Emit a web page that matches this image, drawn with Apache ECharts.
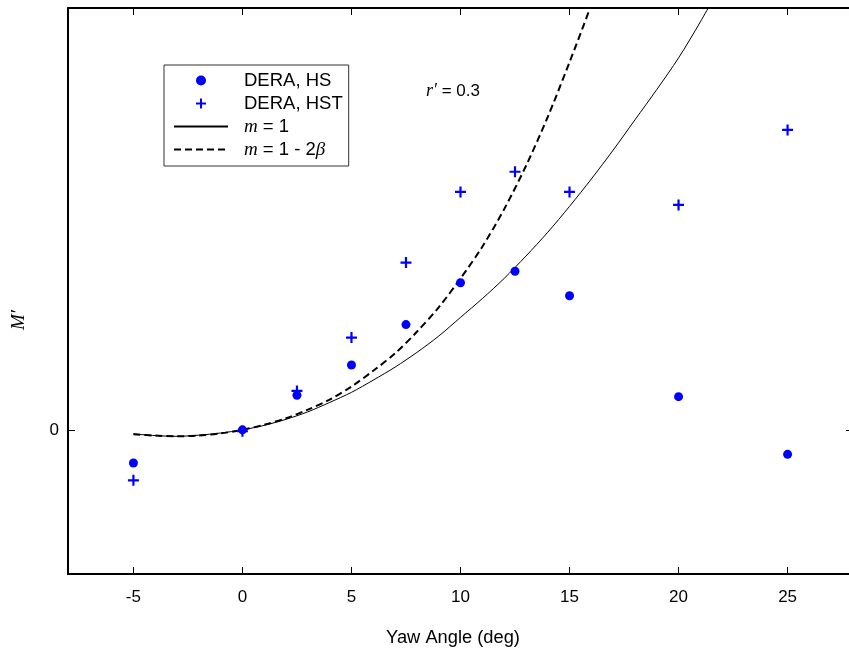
<!DOCTYPE html>
<html>
<head>
<meta charset="utf-8">
<script src="https://cdn.jsdelivr.net/npm/echarts@6/dist/echarts.min.js"></script>
<style>
html,body{margin:0;padding:0;background:#fff;}
#chart{width:849px;height:654px;}
</style>
</head>
<body>
<div id="chart"></div>
<script>
// Measured points (yaw angle, deg)
const yawAngles = [-5, 0, 2.5, 5, 7.5, 10, 12.5, 15, 20, 25];
const deraHS  = [-0.23, 0, 0.24, 0.45, 0.73, 1.02, 1.10, 0.93, 0.23, -0.17];
const deraHST = [-0.35, -0.01, 0.27, 0.64, 1.16, 1.65, 1.79, 1.65, 1.56, 2.08];

// Theory curves
const curveX_m1 = [-5,-4,-3,-2,-1,0,1,2,3,4,5,6,7,8,9,10,11,12,13,14,15,16,17,18,19,20,21,22];
const curveY_m1 = [-0.028,-0.04,-0.045,-0.037,-0.022,0,0.031,0.073,0.125,0.19,0.26,0.345,0.435,0.537,0.65,0.78,0.91,1.05,1.205,1.37,1.55,1.74,1.94,2.15,2.36,2.58,2.83,3.1];
const curveX_m2 = [-5,-4,-3,-2,-1,0,1,2,3,4,5,6,7,8,9,10,11,12,13,14,15,16,17];
const curveY_m2 = [-0.03,-0.04,-0.045,-0.04,-0.025,0,0.035,0.08,0.14,0.21,0.3,0.41,0.53,0.68,0.85,1.05,1.27,1.53,1.83,2.17,2.55,2.95,3.38];

// Axis ticks
const xTicks = [-5, 0, 5, 10, 15, 20, 25];
const yTicks = [0];

const FONT = 'Liberation Sans';
const SERIF = 'Liberation Serif';
const BLUE = '#0000ff';
const PLUS = 'path://M4,0H6V4H10V6H6V10H4V6H0V4H4Z';

const chart = echarts.init(document.getElementById('chart'), null, {renderer: 'canvas'});

const axisCommon = {
  type: 'value',
  axisLine: {show: true, onZero: false, lineStyle: {color: '#000', width: 2}},
  splitLine: {show: false},
  axisTick: {show: true, inside: true, length: 7, lineStyle: {color: '#000', width: 1}},
};

const hiddenDot = {color: 'rgba(0,0,0,0)', borderWidth: 0, opacity: 0};

const option = {
  animation: false,
  backgroundColor: '#fff',
  grid: {left: 68, top: 8, width: 785, height: 566, containLabel: false, outerBoundsMode: 'none'},
  xAxis: [
    Object.assign({}, axisCommon, {
      position: 'bottom', min: -8, max: 28,
      axisTick: Object.assign({}, axisCommon.axisTick, {customValues: xTicks}),
      axisLabel: {show: true, customValues: xTicks, margin: 15, color: '#000', fontSize: 17, fontFamily: FONT}
    }),
    Object.assign({}, axisCommon, {
      position: 'top', min: -8, max: 28,
      axisTick: Object.assign({}, axisCommon.axisTick, {customValues: xTicks}),
      axisLabel: {show: false}
    })
  ],
  yAxis: [
    Object.assign({}, axisCommon, {
      position: 'left', min: -1, max: 2.926,
      axisTick: Object.assign({}, axisCommon.axisTick, {customValues: yTicks}),
      axisLabel: {show: true, customValues: yTicks, margin: 9, color: '#000', fontSize: 17, fontFamily: FONT}
    }),
    Object.assign({}, axisCommon, {
      position: 'right', min: -1, max: 2.926,
      axisTick: Object.assign({}, axisCommon.axisTick, {customValues: yTicks}),
      axisLabel: {show: false}
    })
  ],
  legend: {
    orient: 'vertical',
    left: 164, top: 65,
    padding: [6, 6, 7, 9],
    borderColor: '#333', borderWidth: 1,
    backgroundColor: '#fff',
    itemWidth: 54, itemHeight: 10, itemGap: 4,
    selectedMode: false,
    data: [
      {name: 'DERA, HS', icon: 'circle'},
      {name: 'DERA, HST'},
      {name: 'm = 1', lineStyle: {width: 2}, itemStyle: hiddenDot},
      {name: 'm = 1 - 2β', lineStyle: {width: 2}, itemStyle: hiddenDot}
    ],
    formatter: function (name) {
      if (name === 'm = 1') return '{i|m} = 1';
      if (name === 'm = 1 - 2β') return '{i|m} = 1 - 2{i|β}';
      return name;
    },
    textStyle: {
      color: '#000', fontSize: 18.5, fontFamily: FONT, lineHeight: 19, padding: [0, 0, 0, 11],
      rich: {i: {fontFamily: SERIF, fontStyle: 'italic', fontSize: 19, lineHeight: 19, color: '#000'}}
    }
  },
  graphic: [
    {
      type: 'text', left: 426, top: 82,
      style: {
        text: '{i|r′} = 0.3', fill: '#000', fontSize: 17, fontFamily: FONT,
        rich: {i: {fontFamily: SERIF, fontStyle: 'italic', fontSize: 18, fill: '#000'}}
      }
    },
    {
      type: 'text', x: 453, y: 638,
      style: {text: 'Yaw Angle (deg)', fill: '#000', fontSize: 18.3, fontFamily: FONT, align: 'center', verticalAlign: 'middle'}
    },
    {
      type: 'text', x: 19, y: 320, rotation: Math.PI / 2,
      style: {text: 'M′', fill: '#000', fontSize: 19, fontFamily: SERIF, fontStyle: 'italic', align: 'center', verticalAlign: 'middle'}
    }
  ],
  series: [
    {
      name: 'm = 1', type: 'line', symbol: 'none', smooth: 0.3, clip: true, z: 2,
      lineStyle: {color: '#000', width: 1},
      itemStyle: {color: '#000'},
      data: curveX_m1.map((x, i) => [x, curveY_m1[i]])
    },
    {
      name: 'm = 1 - 2β', type: 'line', symbol: 'none', smooth: 0.3, clip: true, z: 2,
      lineStyle: {color: '#000', width: 2, type: [7, 4]},
      itemStyle: {color: '#000'},
      data: curveX_m2.map((x, i) => [x, curveY_m2[i]])
    },
    {
      name: 'DERA, HS', type: 'scatter', symbol: 'circle', symbolSize: 9, z: 3,
      itemStyle: {color: BLUE, opacity: 1},
      data: yawAngles.map((x, i) => [x, deraHS[i]])
    },
    {
      name: 'DERA, HST', type: 'scatter', symbol: PLUS, symbolSize: 11, z: 3,
      itemStyle: {color: BLUE, opacity: 1},
      data: yawAngles.map((x, i) => [x, deraHST[i]])
    }
  ]
};
chart.setOption(option);
</script>
</body>
</html>
